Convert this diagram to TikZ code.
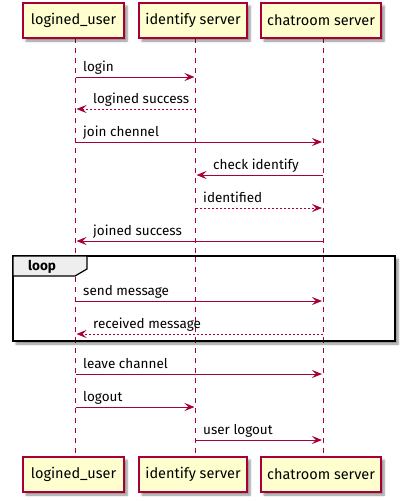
\documentclass[tikz,border=0pt]{standalone}
\usepackage{fontspec}
\setmainfont{Fira Sans}
\usetikzlibrary{arrows.meta,shadows.blur}
\definecolor{pline}{HTML}{A80036}
\definecolor{pfill}{HTML}{FEFECE}
\definecolor{tabfill}{HTML}{EEEEEE}
\begin{document}
\begin{tikzpicture}[x=1pt,y=-1pt,
  part/.style={draw=pline, fill=pfill, line width=1.1pt, minimum height=35pt, inner sep=0pt,
    font=\fontsize{14.5}{16}\selectfont,
    blur shadow={shadow xshift=3pt, shadow yshift=-3pt, shadow blur steps=6, shadow opacity=45}},
  life/.style={draw=pline, line width=0.9pt, dash pattern=on 5pt off 5pt},
  msg/.style={draw=pline, line width=1pt, -{Stealth[length=10pt,width=8pt,inset=4pt]}, shorten >=1pt},
  ret/.style={msg, dash pattern=on 2pt off 2pt},
  lbl/.style={anchor=base west, inner sep=0pt, font=\fontsize{13.5}{15}\selectfont, text=black},
]
\useasboundingbox (0,0) rectangle (405,501);

% lifeline anchors
\coordinate (U) at (75.5,38);
\coordinate (I) at (195.5,38);
\coordinate (C) at (323,38);
\coordinate (Ub) at (75.5,457);
\coordinate (Ib) at (195.5,457);
\coordinate (Cb) at (323,457);

% lifelines
\draw[life] (U) -- (Ub);
\draw[life] (I) -- (Ib);
\draw[life] (C) -- (Cb);

% participants
\node[part, minimum width=101pt] (ut) at (73.5,20.5) {logined\_user};
\node[part, minimum width=108pt] (it) at (193,20.5) {identify server};
\node[part, minimum width=120pt] (ct) at (321,20.5) {chatroom server};
\node[part, minimum width=101pt] (ub) at (73.5,474.5) {logined\_user};
\node[part, minimum width=108pt] (ib) at (193,474.5) {identify server};
\node[part, minimum width=120pt] (cb) at (321,474.5) {chatroom server};

% loop frame
\draw[black, line width=1.5pt, fill=white,
  blur shadow={shadow xshift=3pt, shadow yshift=-3pt, shadow blur steps=6, shadow opacity=45}]
  (13,256) rectangle (395,341);
\draw[black, line width=1.2pt, fill=tabfill] (13,256) -- (87,256) -- (87,269) -- (75,276) -- (13,276) -- cycle;
\node[anchor=base west, inner sep=0pt, font=\bfseries\fontsize{13.5}{15}\selectfont] (looplbl) at (28,270.5) {loop};
% redraw lifelines inside loop
\draw[life] (U |- 0,276.8) -- (U |- 0,340.2);
\draw[life] (I |- 0,256.8) -- (I |- 0,340.2);
\draw[life] (C |- 0,256.8) -- (C |- 0,340.2);

% messages
\draw[msg] (U |- 0,77) -- (I |- 0,77);
\node[lbl] (m1) at (83,71) {login};
\draw[ret] (I |- 0,109) -- (U |- 0,109);
\node[lbl] (m2) at (93,103) {logined success};
\draw[msg] (U |- 0,142) -- (C |- 0,142);
\node[lbl] (m3) at (83,136) {join chennel};
\draw[msg] (C |- 0,175) -- (I |- 0,175);
\node[lbl] (m4) at (213,169) {check identify};
\draw[ret] (I |- 0,208) -- (C |- 0,208);
\node[lbl] (m5) at (203,202) {identified};
\draw[msg] (C |- 0,241) -- (U |- 0,241);
\node[lbl] (m6) at (93,235) {joined success};
\draw[msg] (U |- 0,301) -- (C |- 0,301);
\node[lbl] (m7) at (83,295) {send message};
\draw[ret] (C |- 0,334) -- (U |- 0,334);
\node[lbl] (m8) at (93,328) {received message};
\draw[msg] (U |- 0,374) -- (C |- 0,374);
\node[lbl] (m9) at (83,368) {leave channel};
\draw[msg] (U |- 0,407) -- (I |- 0,407);
\node[lbl] (m10) at (83,401) {logout};
\draw[msg] (I |- 0,440) -- (C |- 0,440);
\node[lbl] (m11) at (203,434) {user logout};
\end{tikzpicture}
\end{document}
